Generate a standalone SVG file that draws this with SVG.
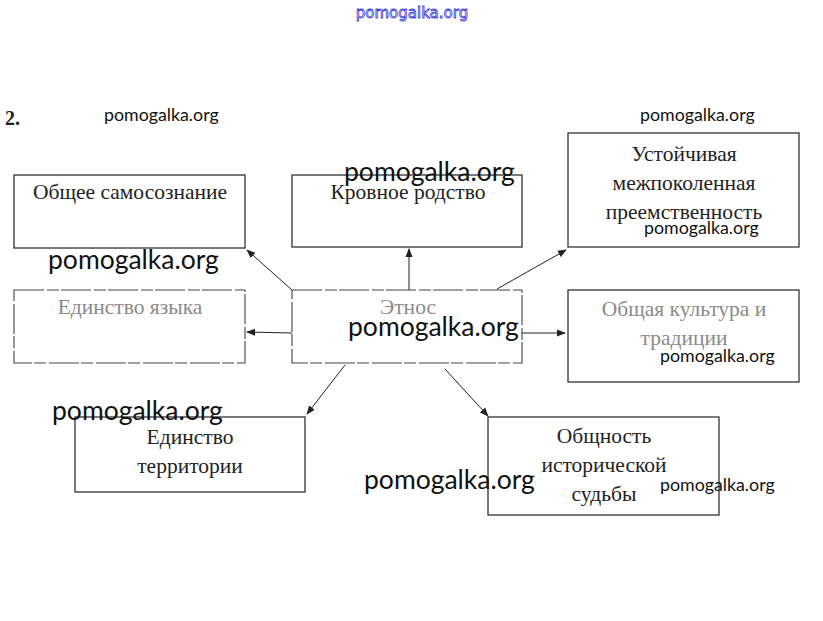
<svg xmlns="http://www.w3.org/2000/svg" width="823" height="621" viewBox="0 0 823 621">
<style>
.box{fill:#fff;stroke:#222;stroke-width:1.2}
.fbox{fill:#fff;stroke:#444;stroke-width:1.1;stroke-dasharray:30 3 12 2}
.t{font-family:"Liberation Serif",serif;font-size:21.5px;fill:#222;text-anchor:middle}
.ft{font-family:"Liberation Serif",serif;font-size:21.5px;fill:#8a8a8a;text-anchor:middle}
.c{stroke:#222;stroke-width:1;fill:none;marker-end:url(#ah)}
.wm{font-family:Lato,"Open Sans",sans-serif;fill:#111}
.s{font-size:17.8px}
.b{font-size:26.5px}
</style>
<defs>
<marker id="ah" viewBox="0 0 10 10" refX="9" refY="5" markerWidth="9" markerHeight="9" markerUnits="userSpaceOnUse" orient="auto">
<path d="M0,1 L10,5 L0,9 Z" fill="#222"/>
</marker>
</defs>
<rect width="823" height="621" fill="#fff"/>
<text x="412" y="18" font-family="'DejaVu Sans',sans-serif" font-size="15" fill="#fff" stroke="#3a3ad8" stroke-width="0.8" text-anchor="middle">pomogalka.org</text>
<text x="5" y="125" font-family="'Liberation Serif',serif" font-size="20" font-weight="bold" fill="#222">2.</text>
<g id="connectors">
<line class="c" x1="292" y1="290" x2="247" y2="250"/>
<line class="c" x1="409" y1="290" x2="409" y2="249"/>
<line class="c" x1="497" y1="289" x2="566" y2="250"/>
<line class="c" x1="292" y1="333" x2="247" y2="332"/>
<line class="c" x1="522" y1="333" x2="565" y2="333"/>
<line class="c" x1="345" y1="365" x2="307" y2="414"/>
<line class="c" x1="445" y1="369" x2="488" y2="416"/>
</g>
<g id="n1"><rect class="box" x="14" y="175" width="231" height="73"/><text class="t" x="130" y="199">Общее самосознание</text></g>
<g id="n2"><rect class="box" x="292" y="175" width="230" height="72"/><text class="t" x="408" y="199">Кровное родство</text></g>
<g id="n3"><rect class="box" x="568" y="133" width="231" height="114"/><text class="t" x="684" y="161">Устойчивая</text><text class="t" x="684" y="190">межпоколенная</text><text class="t" x="684" y="219">преемственность</text></g>
<g id="n4"><rect class="fbox" x="14" y="290" width="231" height="73"/><text class="ft" x="130" y="314">Единство языка</text></g>
<g id="n5"><rect class="fbox" x="292" y="290" width="230" height="73"/><text class="ft" x="408" y="314">Этнос</text></g>
<g id="n6"><rect class="box" x="568" y="290" width="231" height="92"/><text class="ft" x="684" y="316">Общая культура и</text><text class="ft" x="684" y="345">традиции</text></g>
<g id="n7"><rect class="box" x="75" y="417" width="230" height="75"/><text class="t" x="190" y="444">Единство</text><text class="t" x="190" y="473">территории</text></g>
<g id="n8"><rect class="box" x="488" y="417" width="231" height="98"/><text class="t" x="604" y="443">Общность</text><text class="t" x="604" y="472">исторической</text><text class="t" x="604" y="501">судьбы</text></g>
<g id="watermarks">
<text class="wm s" x="104" y="121">pomogalka.org</text>
<text class="wm s" x="640" y="121">pomogalka.org</text>
<text class="wm b" x="344" y="181">pomogalka.org</text>
<text class="wm b" x="48" y="269">pomogalka.org</text>
<text class="wm b" x="348" y="336">pomogalka.org</text>
<text class="wm b" x="52" y="420">pomogalka.org</text>
<text class="wm b" x="364" y="489">pomogalka.org</text>
<text class="wm s" x="644" y="234">pomogalka.org</text>
<text class="wm s" x="660" y="362">pomogalka.org</text>
<text class="wm s" x="660" y="491">pomogalka.org</text>
</g>
</svg>
